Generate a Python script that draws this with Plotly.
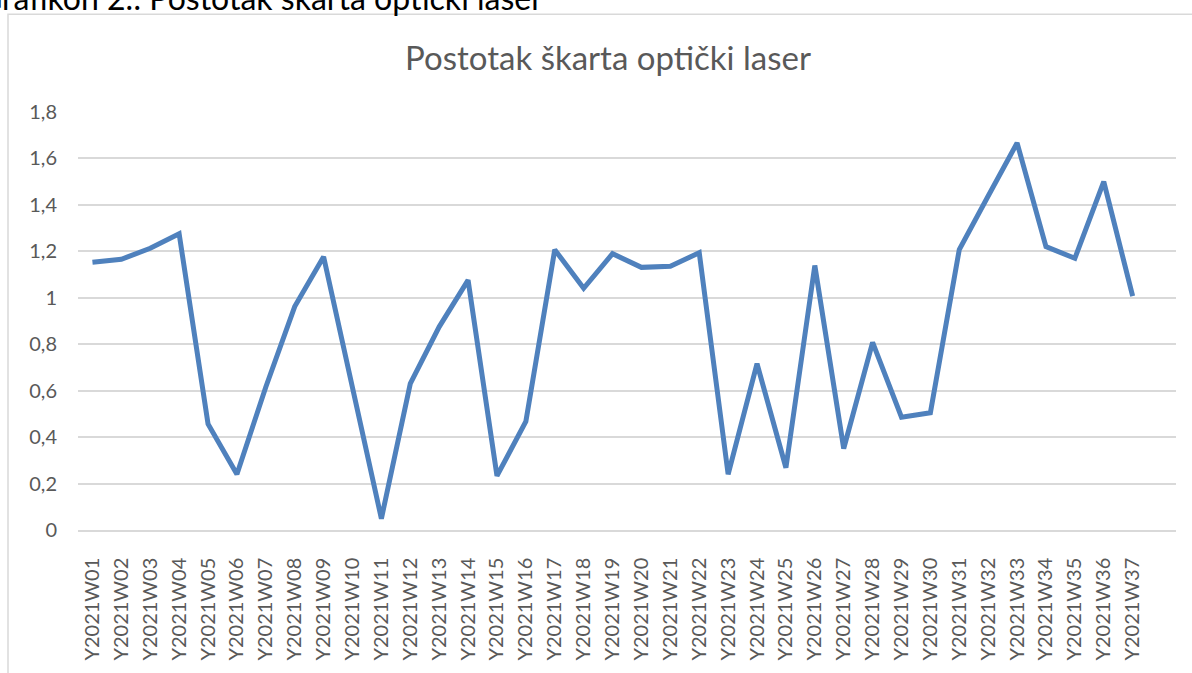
import plotly.graph_objects as go

weeks = ["Y2021W%02d" % i for i in range(1, 38)]
scrap_pct = [1.153, 1.166, 1.213, 1.276, 0.457, 0.240, 0.616, 0.962, 1.177,
             0.613, 0.049, 0.630, 0.875, 1.076, 0.233, 0.468, 1.207, 1.041,
             1.190, 1.131, 1.136, 1.194, 0.240, 0.716, 0.268, 1.139, 0.351,
             0.808, 0.486, 0.505, 1.208, 1.438, 1.667, 1.220, 1.170, 1.500,
             1.007]
y_ticks = [0, 0.2, 0.4, 0.6, 0.8, 1.0, 1.2, 1.4, 1.6, 1.8]
y_labels = ["0", "0,2", "0,4", "0,6", "0,8", "1", "1,2", "1,4", "1,6", "1,8"]

W, H = 1192, 673
L, R, T, B = 78, 16, 112, 138
pw, ph = W - L - R, H - T - B

FONT = "Lato"
GREY = "#595959"

fig = go.Figure()
fig.add_trace(go.Scatter(
    x=weeks, y=scrap_pct, mode="lines",
    line=dict(color="#4f81bd", width=5),
    hoverinfo="x+y",
))

# chart border (Excel chart area)
fig.add_shape(type="rect", xref="paper", yref="paper",
              x0=(8 - L) / pw, x1=(1300 - L) / pw,
              y0=(H - B - 800) / ph, y1=(H - B - 13) / ph,
              line=dict(color="#d9d9d9", width=1.5), layer="below")

# caption of the document, mostly cut off at the top of the screenshot
fig.add_annotation(text="Grafikon 2.: Postotak škarta optički laser",
                   xref="paper", yref="paper", showarrow=False,
                   x=(545 - L) / pw, xanchor="right",
                   y=(H - B - 18) / ph, yanchor="bottom",
                   font=dict(family=FONT, size=32, color="#000000"))

fig.update_layout(
    width=W, height=H,
    margin=dict(l=L, r=R, t=T, b=B),
    paper_bgcolor="white", plot_bgcolor="white",
    showlegend=False,
    font=dict(family=FONT, color=GREY),
    title=dict(text="Postotak škarta optički laser", x=608 / W,
               xanchor="center", y=1 - 58 / H, yanchor="middle",
               font=dict(family=FONT, size=33, color=GREY)),
)
fig.update_xaxes(
    type="category", range=[-0.5, 37.5],
    tickangle=-90, tickfont=dict(size=20, color=GREY),
    showgrid=False, showline=True, linecolor="#d9d9d9", linewidth=1.5,
    ticks="", ticklabelstandoff=18,
)
fig.update_yaxes(
    range=[0, 1.8], tickvals=y_ticks, ticktext=y_labels,
    tickfont=dict(size=20, color=GREY),
    showgrid=True, gridcolor="#d9d9d9", gridwidth=1.5,
    zeroline=False, showline=False, ticks="", ticklabelstandoff=20,
)

# no default page margin, so the figure starts at the window corner
fig.write_html("out.html", config={"displayModeBar": False},
               post_script="document.body.style.margin = '0';")
